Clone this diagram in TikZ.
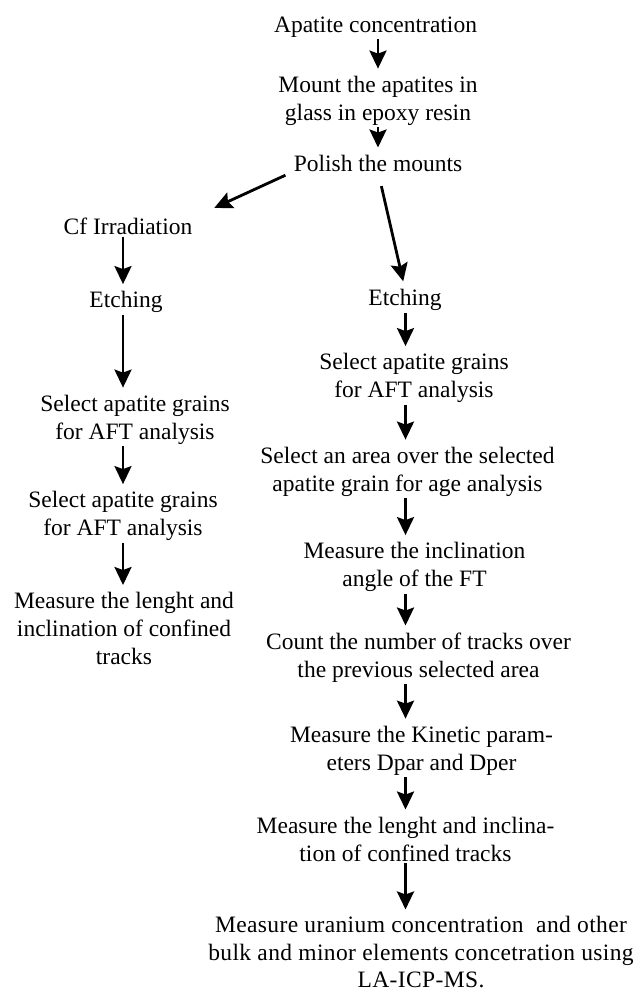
\documentclass[tikz,border=0pt]{standalone}
\usepackage{fontspec}
\setmainfont{Liberation Serif}
\usetikzlibrary{arrows.meta}

\begin{document}
\begin{tikzpicture}[x=1pt,y=-1pt,
    stage/.style={align=center,inner sep=0pt,font=\fontsize{23.5}{28}\selectfont},
    flow/.style={->,>={Stealth[length=18pt,width=17pt,inset=3pt]},line width=2.8pt,shorten >=7pt,shorten <=2pt}]
    \useasboundingbox (0,0) rectangle (636,992);
    % column axes
    \coordinate (axisL) at (123,0);
    \coordinate (axisR) at (405.5,0);
    \coordinate (axisT) at (378,0);

    \node[stage] (conc) at (375.5,27) {Apatite concentration};
    \node[stage] (mount) at (378,100.5) {Mount the apatites in\\glass in epoxy resin};
    \node[stage] (polish) at (378,163) {Polish the mounts};

    % left branch
    \node[stage] (cfirr) at (128,226.5) {Cf Irradiation};
    \node[stage] (etchL) at (126,302) {Etching};
    \node[stage] (selL) at (135,419.5) {Select apatite grains\\for AFT analysis};
    \node[stage] (selLL) at (123,516) {Select apatite grains\\for AFT analysis};
    \node[stage] (lenL) at (124,628.5) {Measure the lenght and\\inclination of confined\\tracks};

    % right branch
    \node[stage] (etchR) at (405,300) {Etching};
    \node[stage] (selR) at (414,378) {Select apatite grains\\for AFT analysis};
    \node[stage] (area) at (407.5,471.5) {Select an area over the selected\\apatite grain for age analysis};
    \node[stage] (incl) at (414.5,567) {Measure the inclination\\angle of the FT};
    \node[stage] (count) at (418.5,657.5) {Count the number of tracks over\\the previous selected area};
    \node[stage] (kin) at (421.5,750.5) {Measure the Kinetic param-\\eters Dpar and Dper};
    \node[stage] (lenR) at (405.5,839) {Measure the lenght and inclina-\\tion of confined tracks};
    \node[stage,font=\fontsize{23.5}{27.5}\selectfont\addfontfeatures{LetterSpace=1.6}] (ura) at (421,952.5) {Measure uranium concentration\ \ and other\\bulk and minor elements concetration using\\LA-ICP-MS.};

    \draw[flow] (conc.south -| axisT) -- (mount.north -| axisT);
    \draw[flow] (mount.south -| axisT) -- (polish.north -| axisT);
    \draw[flow,shorten <=9pt,shorten >=24pt] (polish.south west) -- (cfirr.north east);
    \draw[flow,shorten <=15pt,shorten >=8pt] (polish.south) -- (etchR.north);

    \draw[flow] (cfirr.south -| axisL) -- (etchL.north -| axisL);
    \draw[flow] (etchL.south -| axisL) -- (selL.north -| axisL);
    \draw[flow] (selL.south -| axisL) -- (selLL.north -| axisL);
    \draw[flow] (selLL.south -| axisL) -- (lenL.north -| axisL);

    \draw[flow] (etchR.south -| axisR) -- (selR.north -| axisR);
    \draw[flow] (selR.south -| axisR) -- (area.north -| axisR);
    \draw[flow] (area.south -| axisR) -- (incl.north -| axisR);
    \draw[flow] (incl.south -| axisR) -- (count.north -| axisR);
    \draw[flow] (count.south -| axisR) -- (kin.north -| axisR);
    \draw[flow] (kin.south -| axisR) -- (lenR.north -| axisR);
    \draw[flow] (lenR.south -| axisR) -- (ura.north -| axisR);
\end{tikzpicture}
\end{document}
